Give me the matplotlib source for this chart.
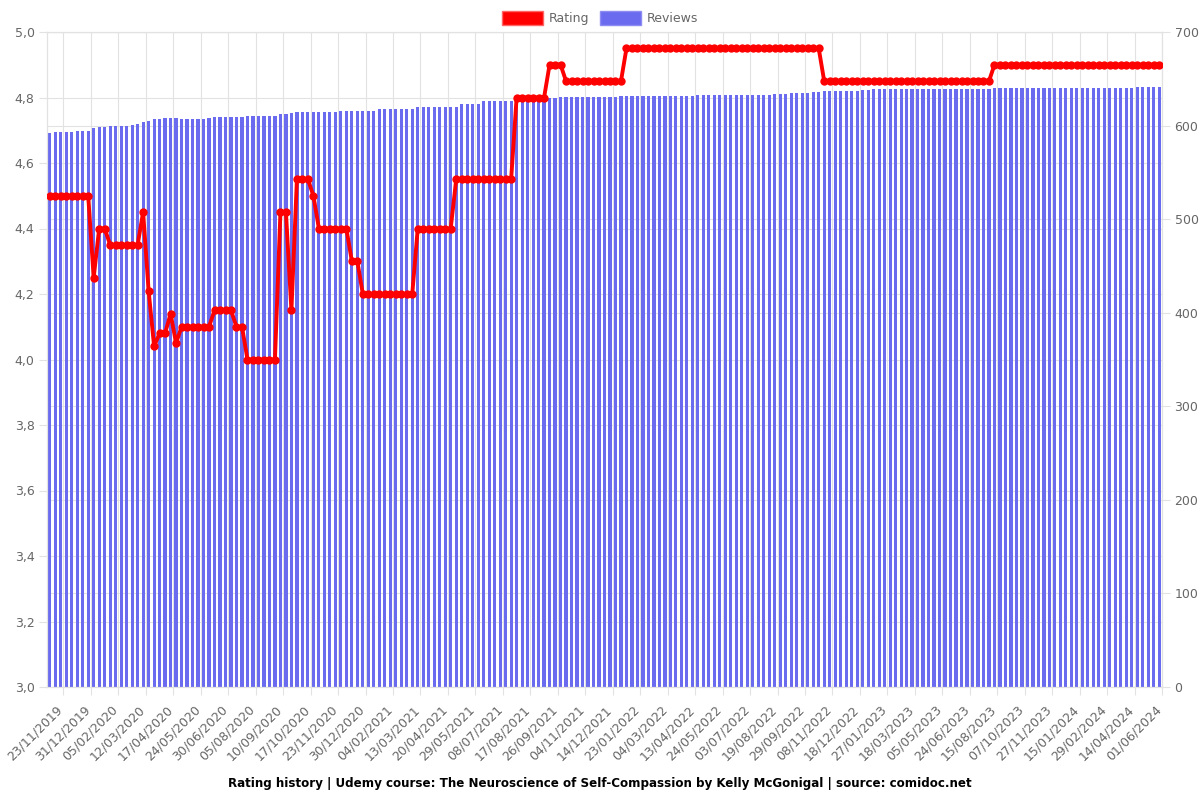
import numpy as np
import matplotlib
matplotlib.use('Agg')
import matplotlib.pyplot as plt
import matplotlib.patches as mpatches
import matplotlib.transforms as mtrans
from matplotlib.ticker import FuncFormatter

# Rating per snapshot (left axis)
rating = [
    4.5, 4.5, 4.5, 4.5, 4.5, 4.5, 4.5, 4.5, 4.25, 4.4,
    4.4, 4.35, 4.35, 4.35, 4.35, 4.35, 4.35, 4.45, 4.21, 4.04,
    4.08, 4.08, 4.14, 4.05, 4.1, 4.1, 4.1, 4.1, 4.1, 4.1,
    4.15, 4.15, 4.15, 4.15, 4.1, 4.1, 4.0, 4.0, 4.0, 4.0,
    4.0, 4.0, 4.45, 4.45, 4.15, 4.55, 4.55, 4.55, 4.5, 4.4,
    4.4, 4.4, 4.4, 4.4, 4.4, 4.3, 4.3, 4.2, 4.2, 4.2,
    4.2, 4.2, 4.2, 4.2, 4.2, 4.2, 4.2, 4.4, 4.4, 4.4,
    4.4, 4.4, 4.4, 4.4, 4.55, 4.55, 4.55, 4.55, 4.55, 4.55,
    4.55, 4.55, 4.55, 4.55, 4.55, 4.8, 4.8, 4.8, 4.8, 4.8,
    4.8, 4.9, 4.9, 4.9, 4.85, 4.85, 4.85, 4.85, 4.85, 4.85,
    4.85, 4.85, 4.85, 4.85, 4.85, 4.95, 4.95, 4.95, 4.95, 4.95,
    4.95, 4.95, 4.95, 4.95, 4.95, 4.95, 4.95, 4.95, 4.95, 4.95,
    4.95, 4.95, 4.95, 4.95, 4.95, 4.95, 4.95, 4.95, 4.95, 4.95,
    4.95, 4.95, 4.95, 4.95, 4.95, 4.95, 4.95, 4.95, 4.95, 4.95,
    4.95, 4.85, 4.85, 4.85, 4.85, 4.85, 4.85, 4.85, 4.85, 4.85,
    4.85, 4.85, 4.85, 4.85, 4.85, 4.85, 4.85, 4.85, 4.85, 4.85,
    4.85, 4.85, 4.85, 4.85, 4.85, 4.85, 4.85, 4.85, 4.85, 4.85,
    4.85, 4.85, 4.9, 4.9, 4.9, 4.9, 4.9, 4.9, 4.9, 4.9,
    4.9, 4.9, 4.9, 4.9, 4.9, 4.9, 4.9, 4.9, 4.9, 4.9,
    4.9, 4.9, 4.9, 4.9, 4.9, 4.9, 4.9, 4.9, 4.9, 4.9,
    4.9, 4.9, 4.9,
]

# Number of reviews per snapshot (right axis)
reviews = [
    592, 593, 593, 593, 593, 594, 594, 594, 597, 598,
    598, 600, 600, 600, 600, 601, 602, 604, 605, 607,
    607, 608, 608, 608, 607, 607, 607, 607, 607, 608,
    609, 609, 609, 609, 609, 609, 610, 610, 610, 610,
    610, 610, 612, 612, 613, 614, 615, 615, 615, 615,
    615, 615, 615, 616, 616, 616, 616, 616, 616, 616,
    618, 618, 618, 618, 618, 618, 618, 620, 620, 620,
    620, 620, 620, 620, 620, 623, 623, 623, 623, 626,
    626, 626, 626, 626, 626, 628, 628, 628, 628, 630,
    630, 630, 630, 631, 631, 631, 631, 631, 631, 631,
    631, 631, 631, 631, 632, 632, 632, 632, 632, 632,
    632, 632, 632, 632, 632, 632, 632, 632, 633, 633,
    633, 633, 633, 633, 633, 633, 633, 633, 633, 633,
    633, 633, 634, 634, 634, 635, 635, 635, 635, 636,
    636, 637, 637, 637, 637, 637, 637, 637, 638, 638,
    639, 639, 639, 639, 639, 639, 639, 639, 639, 639,
    639, 639, 639, 639, 639, 639, 639, 639, 639, 639,
    639, 639, 640, 640, 640, 640, 640, 640, 640, 640,
    640, 640, 640, 640, 640, 640, 640, 640, 640, 640,
    640, 640, 640, 640, 640, 640, 640, 640, 641, 641,
    641, 641, 641,
]

# Dates shown on the x axis (one every 5 snapshots, starting at the 3rd)
date_labels = [
    '23/11/2019', '31/12/2019', '05/02/2020', '12/03/2020', '17/04/2020',
    '24/05/2020', '30/06/2020', '05/08/2020', '10/09/2020', '17/10/2020',
    '23/11/2020', '30/12/2020', '04/02/2021', '13/03/2021', '20/04/2021',
    '29/05/2021', '08/07/2021', '17/08/2021', '26/09/2021', '04/11/2021',
    '14/12/2021', '23/01/2022', '04/03/2022', '13/04/2022', '24/05/2022',
    '03/07/2022', '19/08/2022', '29/09/2022', '08/11/2022', '18/12/2022',
    '27/01/2023', '18/03/2023', '05/05/2023', '24/06/2023', '15/08/2023',
    '07/10/2023', '27/11/2023', '15/01/2024', '29/02/2024', '14/04/2024',
    '01/06/2024',
]

title = ('Rating history | Udemy course: The Neuroscience of Self-Compassion '
         'by Kelly McGonigal | source: comidoc.net')

red = '#ff0000'
blue = '#6b6bef'
gridc = '#e2e2e2'
textc = '#666666'

x = np.arange(len(rating))
label_pos = np.arange(len(date_labels)) * 5 + 2

fig, ax = plt.subplots(figsize=(12, 8), dpi=100)
fig.subplots_adjust(left=47/1200, right=1162/1200, top=1-32/800, bottom=1-687/800)

# Reviews bars on the bottom axes (right scale)
ax.bar(x, reviews, width=0.58, color=blue, zorder=2)
ax2 = ax.twinx()

# Rating line on top
ax2.plot(x, rating, color=red, lw=2.8, marker='o', ms=5, zorder=3)

ax.set_xlim(-0.5, len(x) - 0.5)
ax2.set_ylim(3, 5)

# swap sides: reviews on right, rating on left
ax.yaxis.tick_right()
ax2.yaxis.tick_left()
ax.set_yticks(np.arange(0, 701, 100))
ax2.set_yticks(np.arange(3.0, 5.01, 0.2))
ax2.yaxis.set_major_formatter(FuncFormatter(lambda v, p: ('%.1f' % v).replace('.', ',')))

# grid lines below the bars
ax.set_axisbelow(True)
ax.grid(axis='y', color=gridc, lw=0.8, zorder=0)
ax.set_xticks(label_pos + 0.5, minor=True)
ax.grid(axis='x', which='minor', color=gridc, lw=0.8, zorder=0)
blend = mtrans.blended_transform_factory(ax.transAxes, ax2.transData)
ax.hlines(np.arange(3.0, 5.01, 0.2), 0, 1, transform=blend, color=gridc, lw=0.8, zorder=0)
ax.set_ylim(0, 700)

ax.set_xticks(label_pos)
ax.set_xticklabels(date_labels, rotation=45, ha='right', va='center', rotation_mode='anchor')
shift = mtrans.ScaledTranslation(-6/72, 0, fig.dpi_scale_trans)
for lbl in ax.get_xticklabels():
    lbl.set_transform(lbl.get_transform() + shift)

ax.tick_params(axis='x', which='major', length=0, pad=15, labelsize=9, labelcolor=textc)
ax.tick_params(axis='x', which='minor', length=6, color=gridc, width=0.8)
ax.tick_params(axis='y', length=6, color=gridc, width=0.8, labelsize=9, labelcolor=textc, pad=3)
ax2.tick_params(axis='y', length=6, color=gridc, width=0.8, labelsize=9, labelcolor=textc, pad=3)

for a in (ax, ax2):
    for s in a.spines.values():
        s.set_color(gridc)
        s.set_linewidth(0.8)

# Legend on top
red_box = mpatches.Patch(facecolor=red, edgecolor='#ff6666', label='Rating')
blue_box = mpatches.Patch(facecolor=blue, edgecolor='#8c8cf2', label='Reviews')
fig.legend(handles=[red_box, blue_box], loc='upper center', bbox_to_anchor=(0.5, 1.0),
           ncol=2, frameon=False, fontsize=9, handlelength=3.3, handleheight=1.3,
           handletextpad=0.45, columnspacing=0.9, labelcolor=textc)

fig.text(0.5, 1 - 783/800, title, ha='center', va='center', fontsize=8.6, fontweight='bold')

fig.savefig('out.png', dpi=100)
